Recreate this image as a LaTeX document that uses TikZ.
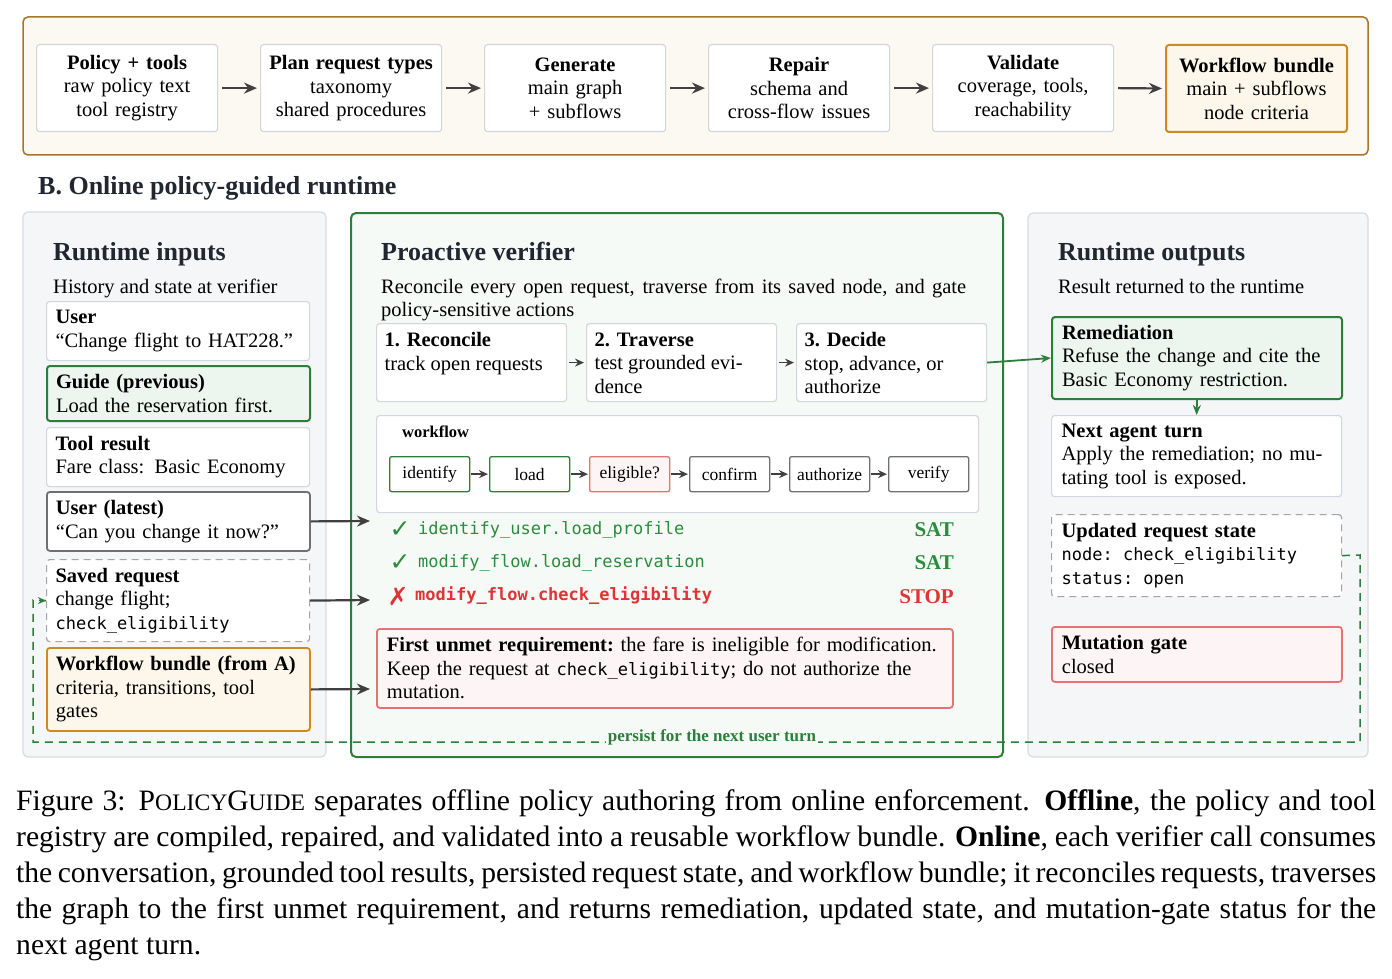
\documentclass[tikz,border=0pt]{standalone}
\usepackage{fontspec}
\setmainfont{Liberation Serif}
\setmonofont{DejaVu Sans Mono}
\newfontfamily\dejavusym{DejaVu Sans}
\usetikzlibrary{arrows.meta}
\definecolor{brownB}{RGB}{168,118,40}
\definecolor{creamF}{RGB}{252,249,242}
\definecolor{orangeB}{RGB}{204,138,32}
\definecolor{orangeF}{RGB}{253,247,235}
\definecolor{boxB}{RGB}{210,214,221}
\definecolor{panelF}{RGB}{245,246,248}
\definecolor{panelB}{RGB}{216,219,225}
\definecolor{grnB}{RGB}{46,125,58}
\definecolor{grnT}{RGB}{44,140,60}
\definecolor{grnF}{RGB}{236,246,238}
\definecolor{midF}{RGB}{246,250,247}
\definecolor{redB}{RGB}{226,116,116}
\definecolor{redT}{RGB}{222,52,52}
\definecolor{redF}{RGB}{253,245,245}
\definecolor{darkB}{RGB}{110,112,116}
\definecolor{arrowC}{RGB}{64,64,64}
\definecolor{dashB}{RGB}{165,165,168}
\definecolor{titleC}{RGB}{33,38,48}
\newcommand\mono[1]{{\fontsize{17}{23.5}\selectfont\ttfamily #1}}
\newcommand\fakesc[1]{{\fontsize{23.6}{36}\selectfont #1}}
\tikzset{
  body/.style={font=\fontsize{20.5}{23.5}\selectfont},
  tbox/.style={draw=boxB, fill=white, line width=1.2pt, rounded corners=3pt, anchor=north west,
    minimum width=181pt, minimum height=87pt, text width=169pt, inner xsep=6pt, inner ysep=0pt,
    align=center, body},
  lbox/.style={draw=boxB, fill=white, line width=1.2pt, rounded corners=3pt, anchor=north west,
    text width=245pt, inner xsep=9pt, inner ysep=0pt, align=left, body},
  rbox/.style={lbox, text width=270pt, inner xsep=10pt},
  dashbox/.style={draw=dashB, dash pattern=on 7pt off 5pt},
  greenbox/.style={draw=grnB, fill=grnF, line width=2pt},
  redbox/.style={draw=redB, fill=redF, line width=1.8pt},
  sbox/.style={draw=boxB, fill=white, line width=1.2pt, rounded corners=3pt, anchor=north west,
    minimum width=190pt, inner xsep=8pt, inner ysep=9pt, align=left, body},
  wnode/.style={draw=darkB, fill=white, line width=1.3pt, rounded corners=2pt, anchor=north west,
    minimum width=80pt, minimum height=35pt, inner sep=0pt, font=\fontsize{17.5}{20}\selectfont},
  panel/.style={draw=panelB, fill=panelF, line width=1.2pt, rounded corners=5pt},
  ptitle/.style={anchor=base west, inner sep=0pt, text=titleC, font=\fontsize{26}{30}\selectfont\bfseries},
  psub/.style={anchor=base west, inner sep=0pt, font=\fontsize{20.5}{23.5}\selectfont},
  flow/.style={-{Stealth[length=13pt,width=11pt]}, line width=2.2pt, draw=arrowC},
  smallarr/.style={-{Stealth[length=9pt,width=8pt]}, line width=1.4pt, draw=arrowC},
  garrow/.style={-{Stealth[length=10pt,width=8pt]}, line width=1.8pt, draw=grnB},
  persist/.style={draw=grnB, line width=1.5pt, dash pattern=on 8pt off 6pt},
  chk/.style={anchor=west, inner sep=0pt, font=\fontsize{17}{20}\selectfont\ttfamily},
  checkmark/.style={inner sep=0pt, font=\dejavusym\fontsize{25}{25}\selectfont},
  verdict/.style={anchor=east, inner sep=0pt, font=\fontsize{21}{23}\selectfont\bfseries}
}
\begin{document}
\begin{tikzpicture}[x=1pt,y=-1pt]
\useasboundingbox (0,0) rectangle (1392,979);
\fill[white] (0,0) rectangle (1392,979);

% ---------------- Panel A ----------------
\draw[draw=brownB, fill=creamF, line width=1.5pt, rounded corners=5pt] (23,17) rectangle (1368,155);
\node[tbox] (a1) at (36,44) {\textbf{Policy + tools}\\raw policy text\\tool registry};
\node[tbox] (a2) at (260,44) {\textbf{Plan request types}\\taxonomy\\shared procedures};
\node[tbox] (a3) at (484,44) {\textbf{Generate}\\main graph\\+ subflows};
\node[tbox] (a4) at (708,44) {\textbf{Repair}\\schema and\\cross-flow issues};
\node[tbox] (a5) at (932,44) {\textbf{Validate}\\coverage, tools,\\reachability};
\node[tbox, draw=orangeB, fill=orangeF, line width=2pt] (a6) at (1165,44) {\textbf{Workflow bundle}\\main + subflows\\node criteria};
\foreach \p/\q in {a1/a2,a2/a3,a3/a4,a4/a5,a5/a6}
  \draw[flow, shorten <=4pt, shorten >=3pt] (\p.east) -- (\q.west);

% ---------------- Section B ----------------
\node[ptitle] (secB) at (38,194) {B. Online policy-guided runtime};

\draw[panel] (23,212) rectangle (326,757);
\draw[draw=grnB, fill=midF, line width=2pt, rounded corners=5pt] (351,213) rectangle (1003,757);
\draw[panel] (1028,213) rectangle (1368,757);

% Left panel
\node[ptitle] (tin) at (53,260) {Runtime inputs};
\node[psub] (sin) at (53,293) {History and state at verifier};
\node[lbox, minimum height=59pt] (user) at (46,301) {\textbf{User}\\“Change flight to HAT228.”};
\node[lbox, greenbox, minimum height=55pt] (guide) at (46,365) {\textbf{Guide (previous)}\\Load the reservation first.};
\node[lbox, minimum height=59pt] (tool) at (46,427) {\textbf{Tool result}\\Fare class: Basic Economy};
\node[lbox, draw=darkB, line width=1.8pt, minimum height=59pt] (latest) at (46,491) {\textbf{User (latest)}\\“Can you change it now?”};
\node[lbox, dashbox, minimum height=82pt] (saved) at (46,559) {\textbf{Saved request}\\change flight;\\\mono{check\_eligibility}};
\node[lbox, draw=orangeB, fill=orangeF, line width=1.8pt, minimum height=83pt] (bundle) at (46,647) {\textbf{Workflow bundle (from A)}\\criteria, transitions, tool\\gates};

\coordinate (t1) at (370,521);
\coordinate (t2) at (370,600);
\coordinate (t3) at (370,689);
\draw[flow] (latest.east) -- (t1);
\draw[flow] (saved.east) -- (t2);
\draw[flow] (bundle.east) -- (t3);

% Middle panel
\node[ptitle] (tver) at (381,260) {Proactive verifier};
\node[psub] (sver1) at (381,293) {\makebox[585pt][s]{Reconcile every open request, traverse from its saved node, and gate}};
\node[psub] (sver2) at (381,316) {policy-sensitive actions};

\node[sbox] (s1) at (376,323) {\parbox[t][60pt][t]{174pt}{\textbf{1. Reconcile}\\track open requests}};
\node[sbox] (s2) at (586,323) {\parbox[t][60pt][t]{174pt}{\textbf{2. Traverse}\\test grounded evi-\\dence}};
\node[sbox] (s3) at (796,323) {\parbox[t][60pt][t]{174pt}{\textbf{3. Decide}\\stop, advance, or\\authorize}};
\draw[smallarr, shorten <=2pt, shorten >=2pt] (s1.east) -- (s2.west);
\draw[smallarr, shorten <=2pt, shorten >=2pt] (s2.east) -- (s3.west);

\node[draw=boxB, fill=white, line width=1.2pt, rounded corners=3pt, anchor=north west,
  minimum width=602pt, minimum height=97pt, inner sep=0pt] (wfbox) at (376,415) {};
\node[anchor=west, inner sep=0pt, font=\fontsize{16.5}{20}\selectfont\bfseries] (wflabel) at (402,432) {workflow};
\node[wnode, draw=grnB] (w1) at (389,456) {identify};
\node[wnode, draw=grnB] (w2) at (489,456) {load};
\node[wnode, draw=redB, fill=redF] (w3) at (589,456) {eligible?};
\node[wnode] (w4) at (689,456) {confirm};
\node[wnode] (w5) at (789,456) {authorize};
\node[wnode] (w6) at (888,456) {verify};
\foreach \p/\q in {w1/w2,w2/w3,w3/w4,w4/w5,w5/w6}
  \draw[smallarr, shorten <=1pt, shorten >=1pt] (\p.east) -- (\q.west);

\node[checkmark, text=grnT] (m1) at (400,530) {✓};
\node[chk, text=grnT] (c1) at (418,530) {identify\_user.load\_profile};
\node[verdict, text=grnT] (v1) at (954,530) {SAT};
\node[checkmark, text=grnT] (m2) at (400,563) {✓};
\node[chk, text=grnT] (c2) at (418,563) {modify\_flow.load\_reservation};
\node[verdict, text=grnT] (v2) at (954,563) {SAT};
\node[checkmark, text=redT] (m3) at (398,596) {✗};
\node[chk, text=redT, font=\fontsize{17}{20}\selectfont\ttfamily\bfseries] (c3) at (415,596) {modify\_flow.check\_eligibility};
\node[verdict, text=redT] (v3) at (954,597) {STOP};

\node[lbox, redbox, text width=556pt, inner xsep=10pt, minimum height=79pt] (unmet) at (376,628)
  {\mbox{\textbf{First unmet requirement:}\ the fare is ineligible for modification.}\\\mbox{Keep the request at \mono{check\_eligibility}; do not authorize the}\\mutation.};

% Right panel
\node[ptitle] (tout) at (1058,260) {Runtime outputs};
\node[psub] (sout) at (1058,293) {Result returned to the runtime};
\node[rbox, greenbox, minimum height=82pt] (rem) at (1051,316) {\textbf{Remediation}\\\makebox[262pt][s]{Refuse the change and cite the}\\Basic Economy restriction.};
\node[rbox, minimum height=81pt] (next) at (1051,415) {\textbf{Next agent turn}\\\makebox[262pt][s]{Apply the remediation; no mu-}\\tating tool is exposed.};
\node[rbox, dashbox, minimum height=82pt] (upd) at (1051,514) {\textbf{Updated request state}\\\mono{node: check\_eligibility}\\\mono{status: open}};
\node[rbox, redbox, minimum height=55pt] (gate) at (1051,626) {\textbf{Mutation gate}\\closed};

\draw[garrow] (s3.east) -- (rem.west);
\draw[garrow] (rem.south) -- (next.north);

% persist loop
\coordinate (pa) at (1360,555);
\coordinate (pb) at (1360,742);
\coordinate (pc) at (33,742);
\coordinate (pd) at (33,600);
\draw[persist] (upd.east) -- (pa) -- (pb) -- (pc) -- (pd) -- (saved.west);
\draw[-{Stealth[length=8pt,width=7pt]}, draw=grnB, line width=1.5pt] ([xshift=-6pt]saved.west) -- (saved.west);
\node[fill=midF, inner xsep=2pt, inner ysep=1pt, text=grnB, font=\fontsize{17}{20}\selectfont\bfseries] (plabel) at (712,737) {persist for the next user turn};

% Caption
\node[anchor=north west, inner sep=0pt, text width=1360pt, align=justify,
  font=\fontsize{29.6}{36}\selectfont] (cap) at (16,789.5)
  {Figure 3: P\fakesc{OLICY}G\fakesc{UIDE} separates offline policy authoring from online enforcement. \textbf{Offline}, the policy and tool\linebreak
   registry are compiled, repaired, and validated into a reusable workflow bundle. \textbf{Online}, each verifier call consumes\linebreak
   the conversation, grounded tool results, persisted request state, and workflow bundle; it reconciles requests, traverses\linebreak
   the graph to the first unmet requirement, and returns remediation, updated state, and mutation-gate status for the\linebreak
   next agent turn.};
\end{tikzpicture}
\end{document}
